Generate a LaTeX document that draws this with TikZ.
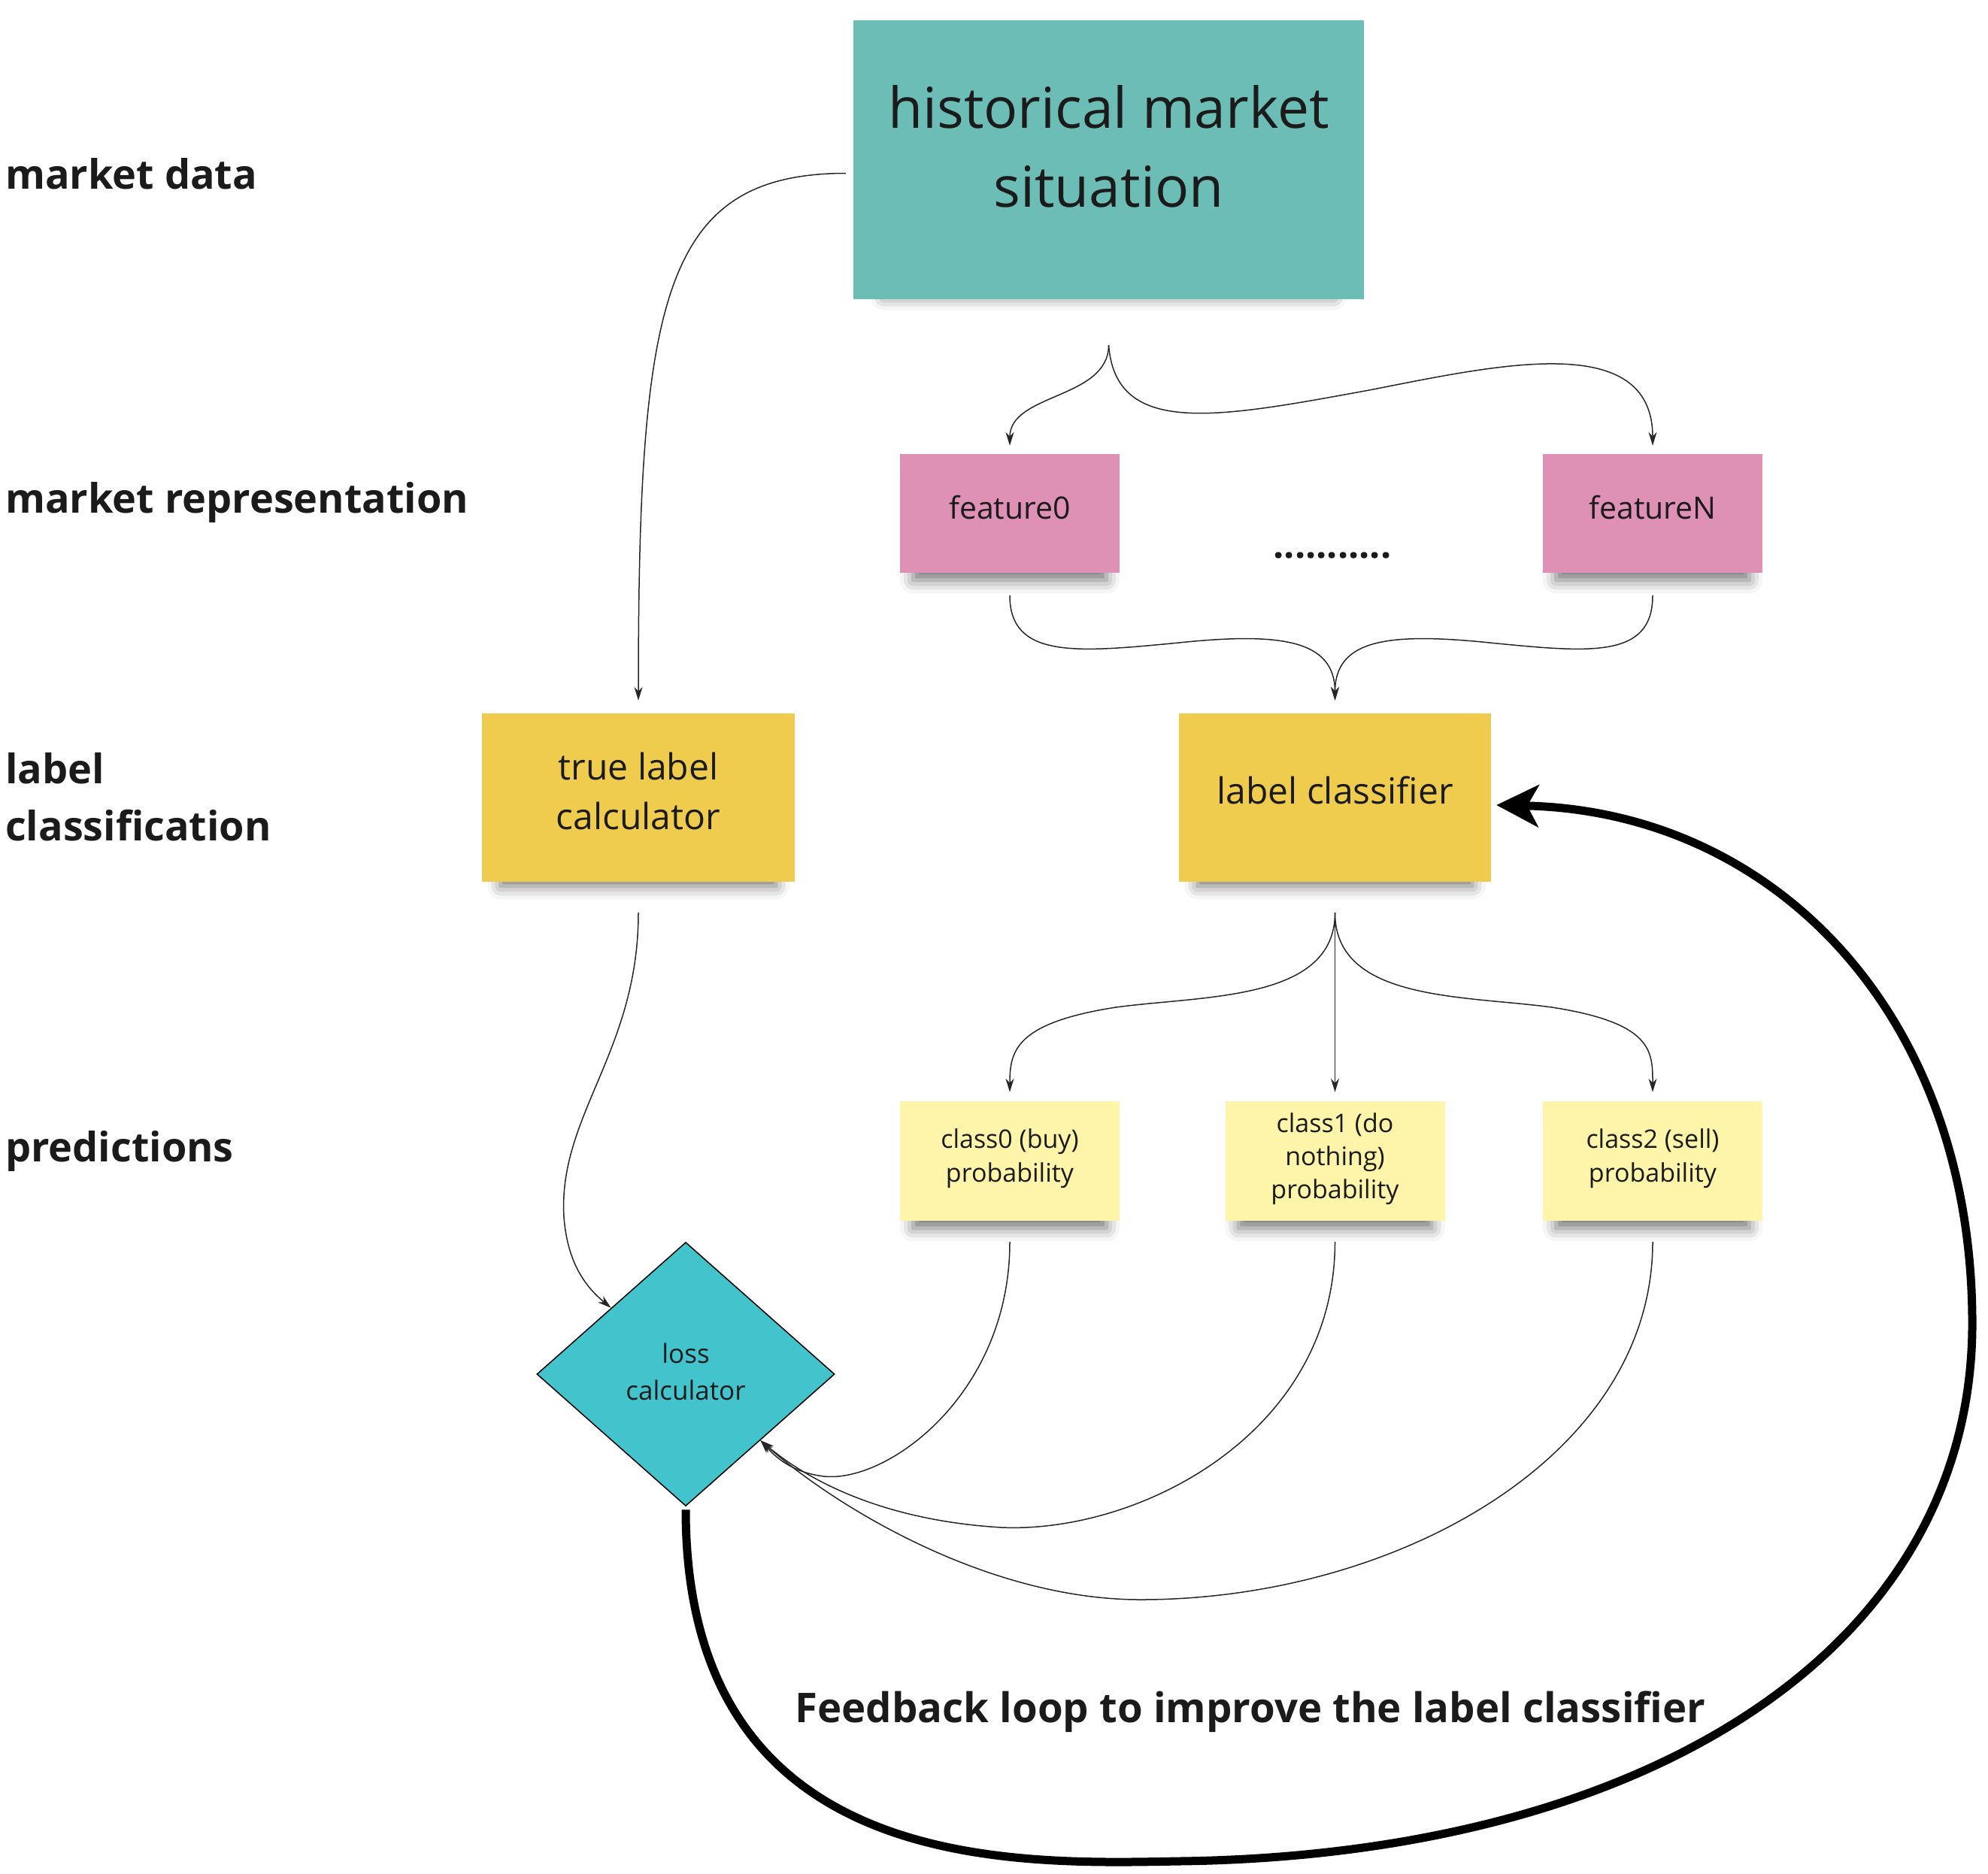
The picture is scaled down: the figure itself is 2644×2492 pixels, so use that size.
\documentclass[tikz,border=0pt]{standalone}
\usepackage{fontspec}
\setmainfont{Open Sans}
\usetikzlibrary{shapes.geometric,arrows.meta,shadows.blur}
\definecolor{histc}{HTML}{6CBDB6}
\definecolor{featc}{HTML}{DE91B5}
\definecolor{yelc}{HTML}{F0CC4E}
\definecolor{lyelc}{HTML}{FEF4AA}
\definecolor{lossc}{HTML}{43C3CC}
\definecolor{txt}{HTML}{1B1B1B}
\begin{document}
\begin{tikzpicture}[x=1pt,y=-1pt,
  note/.style={rectangle, inner sep=0pt,
    blur shadow={shadow xshift=0pt, shadow yshift=-22pt, shadow blur radius=20pt, shadow opacity=55, shadow scale=0.88}},
  ntext/.style={align=center, inner sep=0pt, text=txt},
  conn/.style={line width=1.5pt, draw=black!85, -{Stealth[length=18pt,width=11pt]}},
  fbline/.style={line width=11pt, draw=black, -{Stealth[length=56pt,width=56pt,inset=15pt]}},
  lbl/.style={anchor=west, align=left, inner sep=0pt, text=txt, font=\fontsize{54}{76}\selectfont\bfseries}]
\useasboundingbox (0,0) rectangle (2644,2492);

% left labels
\node[lbl] (lmd) at (7,231) {market data};
\node[lbl] (lmr) at (7,668) {market representation};
\node[lbl] (llc) at (7,1060) {label\\classification};
\node[lbl] (lpr) at (7,1531) {predictions};

% boxes
\node[note, fill=histc, minimum width=679pt, minimum height=371pt] (hist) at (1474.5,212.5) {};
\node[ntext, font=\fontsize{75}{105}\selectfont] (histtxt) at (1474.5,195) {historical market\\situation};

\node[note, fill=featc, minimum width=292pt, minimum height=158pt] (f0) at (1343,683) {};
\node[ntext, font=\fontsize{41}{55}\selectfont] (f0txt) at (1343,675) {feature0};
\node[note, fill=featc, minimum width=292pt, minimum height=158pt] (fN) at (2198,683) {};
\node[ntext, font=\fontsize{41}{55}\selectfont] (fNtxt) at (2198,675) {featureN};
\node[anchor=base, inner sep=0pt, text=txt, font=\fontsize{50}{60}\selectfont\bfseries] (dots) at (1772,742) {...........};

\node[note, fill=yelc, minimum width=416pt, minimum height=224pt] (tl) at (849,1061) {};
\node[ntext, font=\fontsize{48}{66}\selectfont] (tltxt) at (849,1052) {true label\\calculator};
\node[note, fill=yelc, minimum width=415pt, minimum height=224pt] (clf) at (1775.5,1061) {};
\node[ntext, font=\fontsize{48}{66}\selectfont] (clftxt) at (1775.5,1051) {label classifier};

\node[note, fill=lyelc, minimum width=292pt, minimum height=159pt] (c0) at (1343,1544.5) {};
\node[ntext, font=\fontsize{34}{45}\selectfont] (c0txt) at (1343,1541.5) {class0 (buy)\\probability};
\node[note, fill=lyelc, minimum width=292pt, minimum height=159pt] (c1) at (1775.5,1544.5) {};
\node[ntext, font=\fontsize{34}{44}\selectfont] (c1txt) at (1775.5,1541.5) {class1 (do\\nothing)\\probability};
\node[note, fill=lyelc, minimum width=292pt, minimum height=159pt] (c2) at (2198,1544.5) {};
\node[ntext, font=\fontsize{34}{45}\selectfont] (c2txt) at (2198,1541.5) {class2 (sell)\\probability};

\node[diamond, draw=black, line width=1.5pt, fill=lossc, minimum width=396pt, minimum height=351pt, inner sep=0pt] (loss) at (912,1828) {};
\node[ntext, font=\fontsize{35}{49}\selectfont] (losstxt) at (912,1825) {loss\\calculator};

\node[inner sep=0pt, text=txt, font=\fontsize{54.5}{70}\selectfont\bfseries] (fbtxt) at (1663,2277) {Feedback loop to improve the label classifier};

% connectors
\draw[conn] ([xshift=-10pt,yshift=-18pt]hist.west) .. controls (880,231) and (849,400) .. ([yshift=17pt]tl.north);
\draw[conn] ([yshift=-61pt]hist.south) .. controls (1474,531) and (1343,523) .. ([yshift=11pt]f0.north);
\draw[conn] ([yshift=-61pt]hist.south) .. controls (1484,582) and (1619,556) .. (1821,519) .. controls (1990,486) and (2198,438) .. ([yshift=11pt]fN.north);

\draw[conn] ([yshift=-30pt]f0.south) .. controls (1343,877) and (1433,868) .. (1568,855) .. controls (1703,841) and (1775.5,851) .. ([yshift=17pt]clf.north);
\draw[conn] ([yshift=-30pt]fN.south) .. controls (2198,877) and (2114,868) .. (1981,855) .. controls (1845,841) and (1775.5,851) .. ([yshift=17pt]clf.north);

\draw[conn] ([yshift=-41pt]clf.south) -- ([yshift=12pt]c1.north);
\draw[conn] ([yshift=-41pt]clf.south) .. controls (1775.5,1332) and (1602,1324) .. (1484,1340) .. controls (1349,1361) and (1343,1399) .. ([yshift=12pt]c0.north);
\draw[conn] ([yshift=-41pt]clf.south) .. controls (1775.5,1332) and (1946,1324) .. (2064,1340) .. controls (2199,1361) and (2198,1399) .. ([yshift=12pt]c2.north);

\draw[conn] ([yshift=-41pt]tl.south) .. controls (849,1399) and (742,1484) .. (750,1619) .. controls (755,1686) and (784,1716) .. (loss.north west);

\draw[conn] ([yshift=-28pt]c0.south) .. controls (1343,1855) and (1180,1973) .. (1096,1964) .. controls (1054,1959) and (1032,1939) .. (loss.south east);
\draw[conn] ([yshift=-28pt]c1.south) .. controls (1775.5,1905) and (1517,2040) .. (1332,2032) .. controls (1180,2023) and (1079,1973) .. (loss.south east);
\draw[conn] ([yshift=-28pt]c2.south) .. controls (2198,1939) and (1855,2128) .. (1517,2128) .. controls (1315,2128) and (1113,2006) .. (loss.south east);

\draw[fbline] ([yshift=-4pt]loss.south) .. controls (912,2495) and (1349,2480) .. (1568,2476) .. controls (2192,2468) and (2628,2192) .. (2623,1753) .. controls (2620,1349) and (2360,1079) .. ([xshift=7pt,yshift=-10pt]clf.east);
\end{tikzpicture}
\end{document}
